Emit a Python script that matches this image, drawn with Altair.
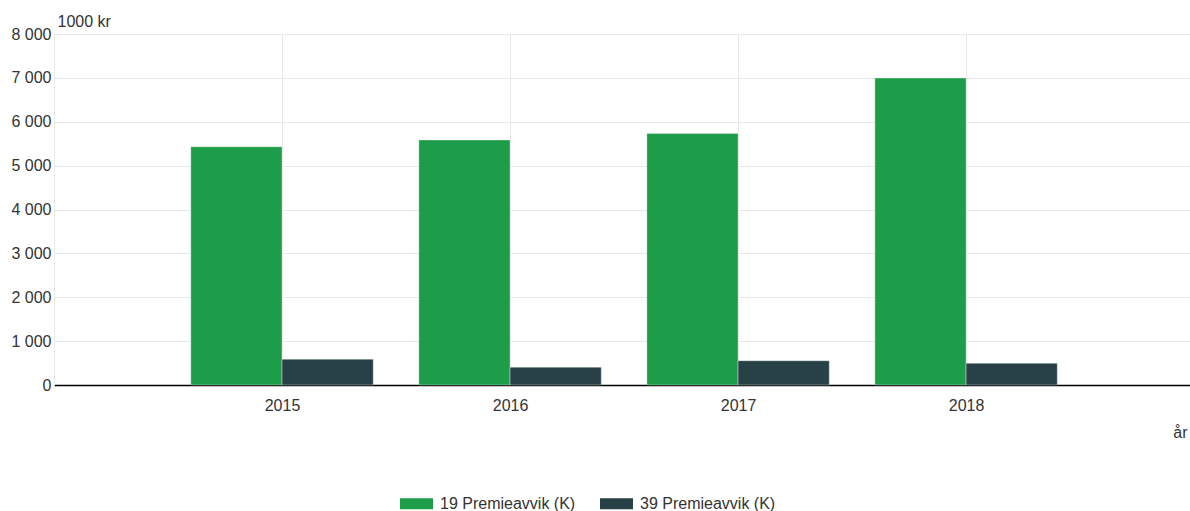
import altair as alt
import pandas as pd

years = [2015, 2016, 2017, 2018]
series_names = ["19 Premieavvik (K)", "39 Premieavvik (K)"]
green_values = [5430, 5585, 5735, 6997]
dark_values = [588, 405, 553, 495]
colors = ["#1d9c4a", "#274147"]
y_ticks = [0, 1000, 2000, 3000, 4000, 5000, 6000, 7000, 8000]

rows = []
for i, y in enumerate(years):
    rows.append({"year": y, "series": series_names[0], "value": green_values[i], "idx": 0})
    rows.append({"year": y, "series": series_names[1], "value": dark_values[i], "idx": 1})
df = pd.DataFrame(rows)

FONT = "Liberation Sans"
FS = 16
TXT = "#333333"
GRID = "#e8eaea"

bars = alt.Chart(df).transform_calculate(
    x0="datum.year - 0.4 + datum.idx * 0.4",
    x1="datum.year + datum.idx * 0.4",
).mark_bar(stroke="white", strokeWidth=0.6, strokeOpacity=0.6).encode(
    x=alt.X(
        "x0:Q",
        scale=alt.Scale(domain=[2014, 2018.982], nice=False, zero=False),
        axis=alt.Axis(
            values=years,
            format="d",
            title="år",
            titleFontWeight="normal",
            titleFontSize=FS,
            titleColor=TXT,
            titleFont=FONT,
            titleX=1133,
            titleY=47,
            titleAlign="right",
            titleBaseline="middle",
            titleAnchor="end",
            labelFontSize=FS,
            labelColor=TXT,
            labelFont=FONT,
            labelPadding=12,
            ticks=False,
            domainColor="#000000",
            domainWidth=1.5,
            grid=True,
            gridColor=GRID,
            labelFlush=False,
        ),
    ),
    x2="x1:Q",
    y=alt.Y(
        "value:Q",
        scale=alt.Scale(domain=[0, 8000], nice=False),
        axis=alt.Axis(
            values=y_ticks,
            labelExpr="replace(format(datum.value, ','), ',', ' ')",
            title="1000 kr",
            titleAngle=0,
            titleFontWeight="normal",
            titleFontSize=FS,
            titleColor=TXT,
            titleFont=FONT,
            titleX=3,
            titleY=-13,
            titleAlign="left",
            titleBaseline="middle",
            labelFontSize=FS,
            labelColor=TXT,
            labelFont=FONT,
            labelPadding=3,
            labelBaseline="middle",
            ticks=False,
            domainColor=GRID,
            grid=True,
            gridColor=GRID,
        ),
    ),
    y2=alt.datum(0),
    color=alt.Color(
        "series:N",
        scale=alt.Scale(domain=series_names, range=colors),
        legend=alt.Legend(
            title=None,
            orient="none",
            direction="horizontal",
            legendX=346,
            legendY=453,
            symbolType="M-1,-0.33H1V0.33H-1Z",
            symbolSize=1089,
            symbolStrokeWidth=0,
            symbolOpacity=1,
            labelFontSize=FS,
            labelColor=TXT,
            labelFont=FONT,
            labelOffset=7,
            columnPadding=24,
        ),
    ),
)

chart = bars.properties(
    width=1136,
    height=351,
    autosize=alt.AutoSizeParams(type="none"),
    padding={"left": 54, "top": 34, "right": 0, "bottom": 126},
).configure_view(stroke=None).configure(background="white")

chart.save("out.html", embed_options={"renderer": "svg", "actions": False})
